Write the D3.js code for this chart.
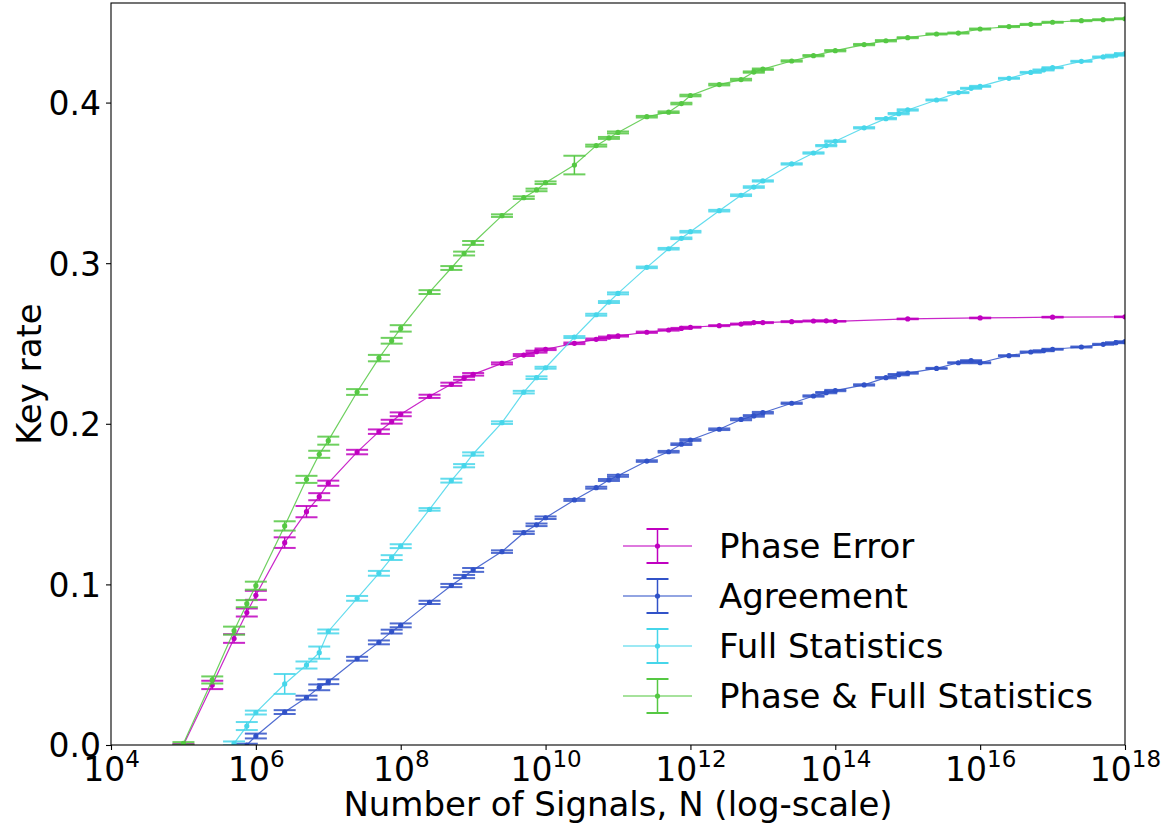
<!DOCTYPE html>
<html>
<head>
<meta charset="utf-8">
<script src="https://cdn.jsdelivr.net/npm/d3@7"></script>
<style>
body { margin: 0; background: #fff; }
svg text { font-family: "DejaVu Sans", sans-serif; fill: #000; }
</style>
</head>
<body>
<svg id="chart" width="1174" height="827"></svg>
<script>
// series names and colours (legend order)
var seriesNames = ["Phase Error", "Agreement", "Full Statistics", "Phase & Full Statistics"];
var seriesColors = ["#c000c0", "#3152c8", "#46d6ea", "#55c843"];

// Phase Error
var phaseN = [1e5, 2.5e5, 5e5, 7.5e5, 1e6, 2.5e6, 5e6, 7.5e6, 1e7, 2.5e7, 5e7, 7.5e7, 1e8, 2.5e8, 5e8, 7.5e8,
    1e9, 2.5e9, 5e9, 7.5e9, 1e10, 2.5e10, 5e10, 7.5e10, 1e11, 2.5e11, 5e11, 7.5e11, 1e12, 2.5e12, 5e12, 7.5e12,
    1e13, 2.5e13, 5e13, 7.5e13, 1e14, 1e15, 1e16, 1e17, 1e18];
var phaseRate = [0.000, 0.0374, 0.0663, 0.0825, 0.0932, 0.126, 0.1453, 0.1546, 0.163, 0.1824, 0.1951, 0.2013, 0.2059, 0.2171, 0.2246, 0.2283,
    0.2308, 0.2376, 0.2428, 0.2449, 0.2464, 0.2501, 0.2526, 0.2539, 0.2547, 0.257, 0.2584, 0.2594, 0.2601, 0.2611, 0.2621, 0.263,
    0.263, 0.2636, 0.264, 0.2641, 0.2638, 0.2653, 0.2659, 0.2664, 0.2666];
var phaseErr = [0.0006, 0.0026, 0.0027, 0.0025, 0.0028, 0.0033, 0.0035, 0.0022, 0.0016, 0.0014, 0.0014, 0.0012, 0.0012, 0.0010, 0.0010, 0.0009,
    0.0008, 0.0006, 0.0006, 0.0006, 0.0005, 0.0005, 0.0005, 0.0004, 0.0004, 0.0004, 0.0004, 0.0003, 0.0003, 0.0003, 0.0003, 0.0003,
    0.0003, 0.0003, 0.0003, 0.0002, 0.0002, 0.0002, 0.0002, 0.0002, 0.0002];

// Agreement
var agreeN = [7.5e5, 1e6, 2.5e6, 5e6, 7.5e6, 1e7, 2.5e7, 5e7, 7.5e7, 1e8, 2.5e8, 5e8, 7.5e8, 1e9,
    2.5e9, 5e9, 7.5e9, 1e10, 2.5e10, 5e10, 7.5e10, 1e11, 2.5e11, 5e11, 7.5e11, 1e12, 2.5e12, 5e12, 7.5e12, 1e13,
    2.5e13, 5e13, 7.5e13, 1e14, 2.5e14, 5e14, 7.5e14, 1e15, 2.5e15, 5e15, 7.5e15, 1e16, 2.5e16, 5e16, 7.5e16, 1e17,
    2.5e17, 5e17, 7.5e17, 1e18];
var agreeRate = [0.0, 0.0056, 0.0205, 0.0295, 0.0359, 0.0394, 0.0537, 0.0639, 0.0706, 0.0745, 0.0888, 0.0993, 0.1049, 0.109,
    0.1204, 0.1322, 0.1371, 0.1415, 0.1526, 0.1602, 0.165, 0.1676, 0.1768, 0.1826, 0.1873, 0.1899, 0.1966, 0.2027, 0.2049, 0.2069,
    0.2128, 0.2173, 0.2194, 0.2207, 0.2242, 0.2287, 0.2306, 0.2316, 0.2345, 0.238, 0.2393, 0.238, 0.2424, 0.2447, 0.2455, 0.2464,
    0.2478, 0.2495, 0.2505, 0.2511];
var agreeErr = [0.0008, 0.0015, 0.0012, 0.0012, 0.0018, 0.0015, 0.0012, 0.0012, 0.0012, 0.0012, 0.0010, 0.0010, 0.0010, 0.0012,
    0.0008, 0.0008, 0.0008, 0.0008, 0.0006, 0.0006, 0.0006, 0.0006, 0.0005, 0.0005, 0.0005, 0.0005, 0.0005, 0.0005, 0.0005, 0.0005,
    0.0004, 0.0004, 0.0004, 0.0004, 0.0004, 0.0004, 0.0004, 0.0004, 0.0003, 0.0003, 0.0003, 0.0003, 0.0003, 0.0003, 0.0003, 0.0003,
    0.0003, 0.0003, 0.0003, 0.0003];

// Full Statistics
var fullN = [5e5, 7.5e5, 1e6, 2.5e6, 5e6, 7.5e6, 1e7, 2.5e7, 5e7, 7.5e7, 1e8, 2.5e8, 5e8, 7.5e8, 1e9,
    2.5e9, 5e9, 7.5e9, 1e10, 2.5e10, 5e10, 7.5e10, 1e11, 2.5e11, 5e11, 7.5e11, 1e12, 2.5e12, 5e12, 7.5e12, 1e13,
    2.5e13, 5e13, 7.5e13, 1e14, 2.5e14, 5e14, 7.5e14, 1e15, 2.5e15, 5e15, 7.5e15, 1e16, 2.5e16, 5e16, 7.5e16, 1e17,
    2.5e17, 5e17, 7.5e17, 1e18];
var fullRate = [0.001, 0.0118, 0.0202, 0.038, 0.0498, 0.0575, 0.0707, 0.0913, 0.1069, 0.1167, 0.1238, 0.1467, 0.1646, 0.1739, 0.1812,
    0.2007, 0.2197, 0.2287, 0.2349, 0.254, 0.2679, 0.2758, 0.2812, 0.2974, 0.309, 0.3155, 0.3196, 0.3327, 0.3423, 0.3474, 0.3512,
    0.3618, 0.3686, 0.3732, 0.3759, 0.3843, 0.39, 0.3931, 0.3954, 0.4016, 0.4062, 0.4089, 0.4101, 0.4151, 0.4188, 0.4203, 0.4217,
    0.4257, 0.4284, 0.4295, 0.4305];
var fullErr = [0.0012, 0.0025, 0.0012, 0.0062, 0.0022, 0.0038, 0.0012, 0.0015, 0.0015, 0.0015, 0.0012, 0.0008, 0.0012, 0.0010, 0.0010,
    0.0008, 0.0008, 0.0008, 0.0006, 0.0006, 0.0006, 0.0006, 0.0006, 0.0005, 0.0005, 0.0005, 0.0005, 0.0005, 0.0005, 0.0005, 0.0004,
    0.0004, 0.0004, 0.0004, 0.0004, 0.0004, 0.0004, 0.0004, 0.0004, 0.0003, 0.0003, 0.0003, 0.0003, 0.0003, 0.0003, 0.0003, 0.0003,
    0.0003, 0.0003, 0.0003, 0.0003];

// Phase & Full Statistics
var bothN = [1e5, 2.5e5, 5e5, 7.5e5, 1e6, 2.5e6, 5e6, 7.5e6, 1e7, 2.5e7, 5e7, 7.5e7, 1e8, 2.5e8, 5e8, 7.5e8,
    1e9, 2.5e9, 5e9, 7.5e9, 1e10, 2.5e10, 5e10, 7.5e10, 1e11, 2.5e11, 5e11, 7.5e11, 1e12, 2.5e12, 5e12, 7.5e12,
    1e13, 2.5e13, 5e13, 1e14, 2.5e14, 5e14, 1e15, 2.5e15, 5e15, 1e16, 2.5e16, 5e16, 1e17, 2.5e17, 5e17, 1e18];
var bothRate = [0.001, 0.0405, 0.0712, 0.088, 0.0992, 0.1364, 0.1654, 0.181, 0.1895, 0.2198, 0.2409, 0.2517, 0.2594, 0.282, 0.297, 0.306,
    0.3126, 0.3296, 0.3408, 0.3456, 0.3501, 0.3611, 0.3732, 0.378, 0.3814, 0.3912, 0.394, 0.3994, 0.4044, 0.4112, 0.4143, 0.419,
    0.4208, 0.4259, 0.4292, 0.4323, 0.4361, 0.4385, 0.4404, 0.4427, 0.4433, 0.4458, 0.4473, 0.4487, 0.45, 0.451, 0.4516, 0.4522];
var bothErr = [0.0008, 0.0022, 0.0025, 0.0022, 0.0025, 0.0029, 0.0022, 0.0022, 0.0025, 0.0018, 0.0020, 0.0018, 0.0020, 0.0012, 0.0012, 0.0012,
    0.0012, 0.0008, 0.0008, 0.0008, 0.0008, 0.0058, 0.0006, 0.0006, 0.0006, 0.0005, 0.0005, 0.0005, 0.0005, 0.0005, 0.0005, 0.0004,
    0.0004, 0.0004, 0.0004, 0.0004, 0.0004, 0.0004, 0.0003, 0.0003, 0.0003, 0.0003, 0.0003, 0.0003, 0.0003, 0.0003, 0.0003, 0.0003];

var yTicks = [0, 0.1, 0.2, 0.3, 0.4];
var xTickExps = [4, 6, 8, 10, 12, 14, 16, 18];

function zipSeries(ns, rates, errs) {
    return ns.map(function (n, i) {
        return {n: n, rate: rates[i], err: errs[i] || 0};
    });
}

var allSeries = [
    zipSeries(phaseN, phaseRate, phaseErr),
    zipSeries(agreeN, agreeRate, agreeErr),
    zipSeries(fullN, fullRate, fullErr),
    zipSeries(bothN, bothRate, bothErr)
];

var margin = {top: 3, right: 49, bottom: 82, left: 111};
var width = 1174 - margin.left - margin.right,
    height = 827 - margin.top - margin.bottom;

var svg = d3.select('#chart')
    .append("g")
    .attr("transform", "translate(" + margin.left + "," + margin.top + ")");

var x = d3.scaleLog().domain([1e4, 1e18]).range([0, width]);
var y = d3.scaleLinear().domain([0, 0.462]).range([height, 0]);

svg.append("clipPath").attr("id", "plot-clip")
    .append("rect").attr("width", width).attr("height", height);

// y axis
var yAxis = d3.axisLeft(y)
    .tickValues(yTicks)
    .tickSize(5)
    .tickSizeOuter(0)
    .tickPadding(5)
    .tickFormat(d3.format(".1f"));

var gy = svg.append("g").attr("class", "y axis").call(yAxis);
gy.select(".domain").remove();
gy.selectAll("line").attr("stroke", "#000").attr("stroke-width", 1.1);
gy.selectAll("text").attr("font-size", 33).attr("dy", "0.36em");

// x axis with 10^k labels
var xAxis = d3.axisBottom(x)
    .tickValues(xTickExps.map(function (e) { return Math.pow(10, e); }))
    .tickSize(5)
    .tickSizeOuter(0)
    .tickFormat("");

var gx = svg.append("g").attr("class", "x axis")
    .attr("transform", "translate(0," + height + ")")
    .call(xAxis);
gx.select(".domain").remove();
gx.selectAll("line").attr("stroke", "#000").attr("stroke-width", 1.1);
gx.selectAll(".tick").each(function (d) {
    var t = d3.select(this).append("text")
        .attr("y", 36)
        .attr("text-anchor", "middle")
        .attr("font-size", 33);
    t.append("tspan").text("10");
    t.append("tspan").attr("font-size", 23).attr("dy", -14)
        .text(Math.round(Math.log10(d)));
});

// axis labels
svg.append("text")
    .attr("x", width / 2)
    .attr("y", height + 71)
    .attr("text-anchor", "middle")
    .attr("font-size", 34)
    .text("Number of Signals, N (log-scale)");

svg.append("text")
    .attr("transform", "translate(" + (41 - margin.left) + "," + (height / 2) + ") rotate(-90)")
    .attr("text-anchor", "middle")
    .attr("font-size", 34)
    .text("Key rate");

// data
var plot = svg.append("g").attr("clip-path", "url(#plot-clip)");
var line = d3.line()
    .x(function (d) { return x(d.n); })
    .y(function (d) { return y(d.rate); });

var capHalf = 11;

allSeries.forEach(function (data, si) {
    var color = seriesColors[si];
    var g = plot.append("g").attr("class", "series");

    g.append("path")
        .datum(data)
        .attr("fill", "none")
        .attr("stroke", color)
        .attr("stroke-opacity", 0.85)
        .attr("stroke-width", 1.2)
        .attr("d", line);

    var bars = g.selectAll(".err")
        .data(data)
        .enter()
        .append("g")
        .attr("class", "err");

    bars.append("line")
        .attr("x1", function (d) { return x(d.n); })
        .attr("x2", function (d) { return x(d.n); })
        .attr("y1", function (d) { return y(d.rate - d.err); })
        .attr("y2", function (d) { return y(d.rate + d.err); })
        .attr("stroke", color)
        .attr("stroke-width", 1.5);

    [-1, 1].forEach(function (s) {
        bars.append("line")
            .attr("x1", function (d) { return x(d.n) - capHalf; })
            .attr("x2", function (d) { return x(d.n) + capHalf; })
            .attr("y1", function (d) { return y(d.rate + s * d.err); })
            .attr("y2", function (d) { return y(d.rate + s * d.err); })
            .attr("stroke", color)
            .attr("stroke-opacity", 0.85)
            .attr("stroke-width", 2);
    });

    bars.append("circle")
        .attr("cx", function (d) { return x(d.n); })
        .attr("cy", function (d) { return y(d.rate); })
        .attr("r", 2.6)
        .attr("fill", color);
});

// frame
svg.append("rect")
    .attr("width", width)
    .attr("height", height)
    .attr("fill", "none")
    .attr("stroke", "#000")
    .attr("stroke-width", 1.1);

// legend
var legend = svg.append("g")
    .attr("transform", "translate(" + (623 - margin.left) + "," + (546 - margin.top) + ")");

seriesNames.forEach(function (name, i) {
    var color = seriesColors[i];
    var item = legend.append("g").attr("transform", "translate(0," + (i * 50) + ")");
    item.append("line")
        .attr("x1", 0).attr("x2", 69)
        .attr("stroke", color).attr("stroke-opacity", 0.7).attr("stroke-width", 1.5);
    item.append("line")
        .attr("x1", 34.5).attr("x2", 34.5).attr("y1", -17).attr("y2", 17)
        .attr("stroke", color).attr("stroke-width", 1.5);
    [-17, 17].forEach(function (cy) {
        item.append("line")
            .attr("x1", 34.5 - capHalf).attr("x2", 34.5 + capHalf)
            .attr("y1", cy).attr("y2", cy)
            .attr("stroke", color).attr("stroke-width", 2);
    });
    item.append("circle").attr("cx", 34.5).attr("r", 2.6).attr("fill", color);
    item.append("text")
        .attr("x", 96)
        .attr("dy", "0.36em")
        .attr("font-size", 34)
        .text(name);
});
</script>
</body>
</html>
